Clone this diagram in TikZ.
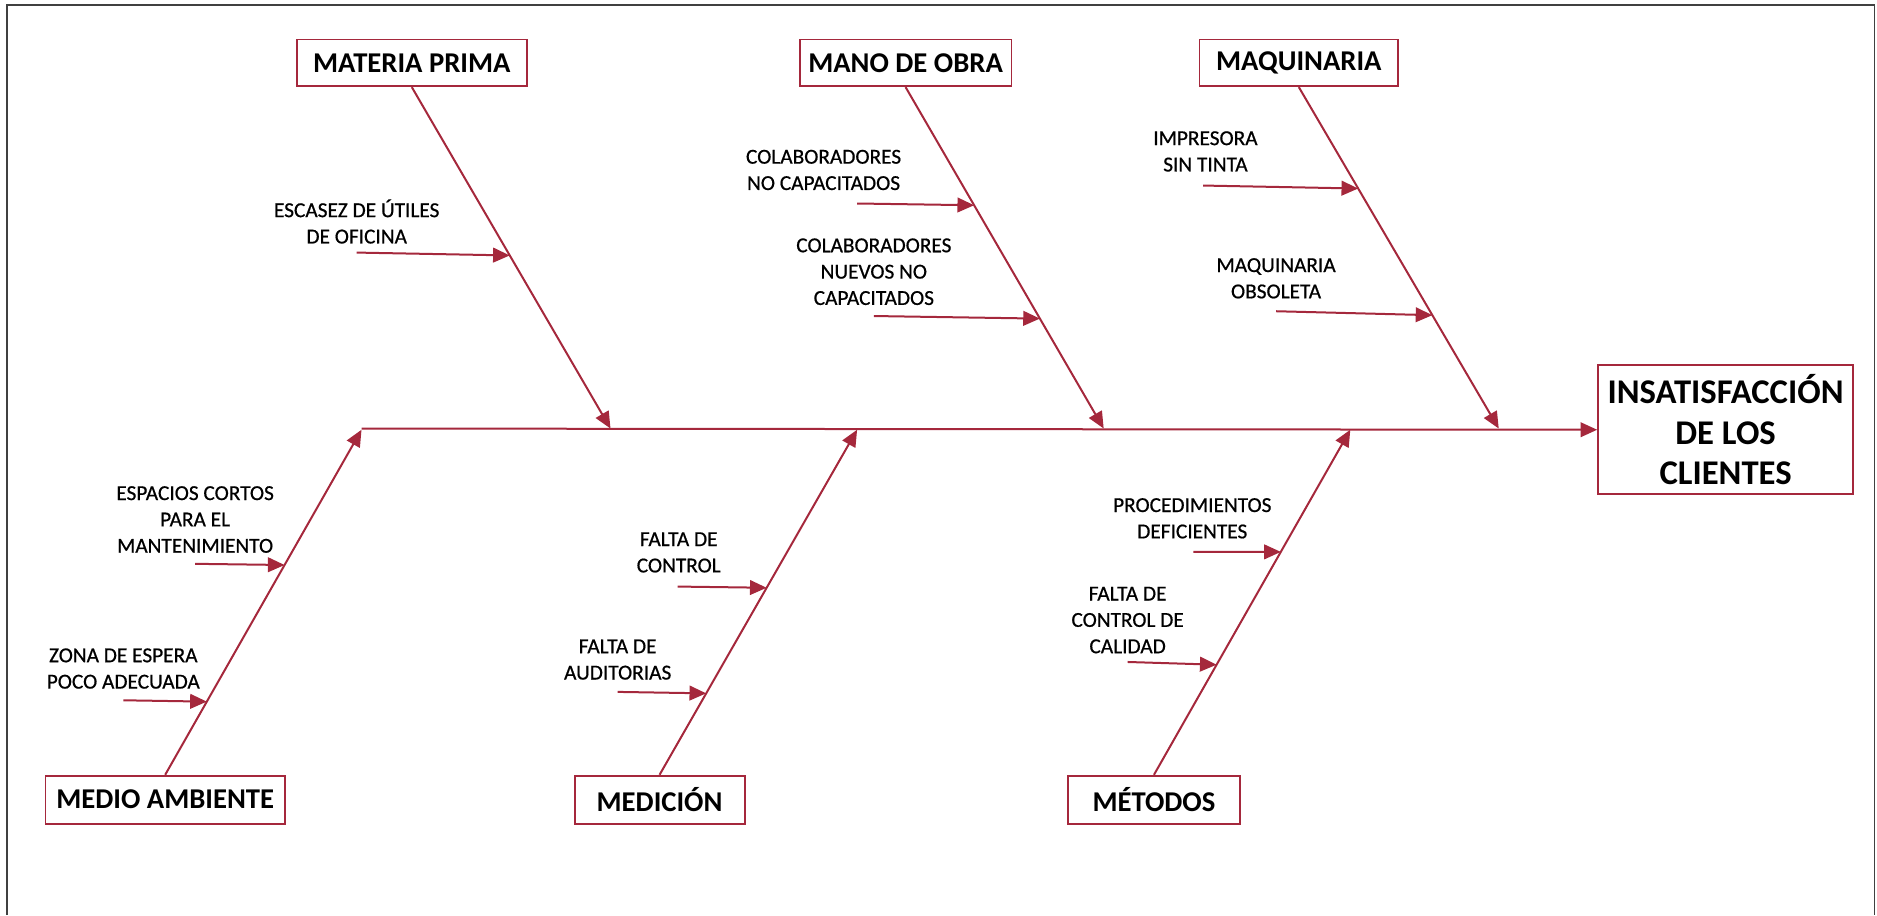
\documentclass[tikz,border=0pt]{standalone}
\usepackage{fontspec}
\setmainfont{Carlito}
\newfontfamily\causefont{Carlito}[FakeBold=0.6]
\usetikzlibrary{arrows.meta,calc}
\definecolor{bone}{RGB}{165,40,60}
\definecolor{framec}{RGB}{64,64,64}
\begin{document}
\begin{tikzpicture}[x=0.8978pt,y=-0.8978pt,
  catbox/.style={draw=bone,line width=1.4pt,fill=white,inner sep=0pt,
    font=\bfseries\fontsize{21.5}{25}\selectfont,minimum height=35pt},
  effbox/.style={draw=bone,line width=1.4pt,inner sep=0pt,align=center,
    font=\bfseries\fontsize{26}{30.5}\selectfont,minimum width=191.2pt,minimum height=97pt},
  cause/.style={align=center,inner sep=0pt,font=\causefont\fontsize{16}{19.75}\selectfont},
  bonearrow/.style={draw=bone,line width=1.5pt,-{Triangle[length=12.5pt,width=11pt]}},
  subarrow/.style={draw=bone,line width=1.5pt,-{Triangle[length=12.5pt,width=11pt]}}]
\useasboundingbox (0,0) rectangle (1568,764.4);
\draw[framec,line width=1.1pt] (6,764.4) -- (6,4) -- (1566,4) -- (1566,764.4);

% categories
\node[catbox,minimum width=172.4pt] (mp) at (344,52.5) {MATERIA PRIMA};
\node[catbox,minimum width=158.9pt] (mo) at (756.5,52.5) {MANO DE OBRA};
\node[catbox,minimum width=149pt] (mq) at (1085,52.5) {MAQUINARIA};
\node[catbox,minimum width=179.6pt,minimum height=35.9pt] (ma) at (138,668) {MEDIO AMBIENTE};
\node[catbox,minimum width=127.5pt,minimum height=35.9pt] (me) at (551,668) {MEDICIÓN};
\node[catbox,minimum width=129.3pt,minimum height=35.9pt] (mt) at (964,668) {MÉTODOS};
\node[effbox] (ef) at (1441.5,359) {INSATISFACCIÓN\\DE LOS\\CLIENTES};

% spine points
\coordinate (s0) at (302,358);
\coordinate (p1) at (510,358);
\coordinate (p2) at (922,358);
\coordinate (p3) at (1252,358);
\coordinate (q1) at (302,359);
\coordinate (q2) at (716,359);
\coordinate (q3) at (1128,359);

\draw[bonearrow] (s0) -- (ef.west);
\draw[bonearrow] (mp.south) -- (p1);
\draw[bonearrow] (mo.south) -- (p2);
\draw[bonearrow] (mq.south) -- (p3);
\draw[bonearrow] (ma.north) -- (q1);
\draw[bonearrow] (me.north) -- (q2);
\draw[bonearrow] (mt.north) -- (q3);

% causes
\node[cause] (c1) at (298,185) {ESCASEZ DE ÚTILES\\DE OFICINA};
\coordinate (a1) at (298,211);
\draw[subarrow] (a1) -- ($(mp.south)!0.493!(p1)$);

\node[cause] (c2) at (688,142) {COLABORADORES\\NO CAPACITADOS};
\coordinate (a2) at (716,170);
\draw[subarrow] (a2) -- ($(mo.south)!0.346!(p2)$);

\node[cause] (c3) at (730,227) {COLABORADORES\\NUEVOS NO\\CAPACITADOS};
\coordinate (a3) at (730,264);
\draw[subarrow] (a3) -- ($(mo.south)!0.678!(p2)$);

\node[cause] (c4) at (1007,126.5) {IMPRESORA\\SIN TINTA};
\coordinate (a4) at (1005,155);
\draw[subarrow] (a4) -- ($(mq.south)!0.297!(p3)$);

\node[cause] (c5) at (1066,232.5) {MAQUINARIA\\OBSOLETA};
\coordinate (a5) at (1066,260);
\draw[subarrow] (a5) -- ($(mq.south)!0.668!(p3)$);

\node[cause] (c6) at (163,434) {ESPACIOS CORTOS\\PARA EL\\MANTENIMIENTO};
\coordinate (a6) at (163,471);
\draw[subarrow] (a6) -- ($(ma.north)!0.608!(q1)$);

\node[cause] (c7) at (103,558.5) {ZONA DE ESPERA\\POCO ADECUADA};
\coordinate (a7) at (103,585);
\draw[subarrow] (a7) -- ($(ma.north)!0.212!(q1)$);

\node[cause] (c8) at (567,461.5) {FALTA DE\\CONTROL};
\coordinate (a8) at (566,490);
\draw[subarrow] (a8) -- ($(me.north)!0.542!(q2)$);

\node[cause] (c9) at (516,551) {FALTA DE\\AUDITORIAS};
\coordinate (a9) at (516,578);
\draw[subarrow] (a9) -- ($(me.north)!0.236!(q2)$);

\node[cause] (c10) at (996,433) {PROCEDIMIENTOS\\DEFICIENTES};
\coordinate (a10) at (997,461);
\draw[subarrow] (a10) -- ($(mt.north)!0.646!(q3)$);

\node[cause] (c11) at (942,518) {FALTA DE\\CONTROL DE\\CALIDAD};
\coordinate (a11) at (942,553);
\draw[subarrow] (a11) -- ($(mt.north)!0.319!(q3)$);
\end{tikzpicture}
\end{document}
